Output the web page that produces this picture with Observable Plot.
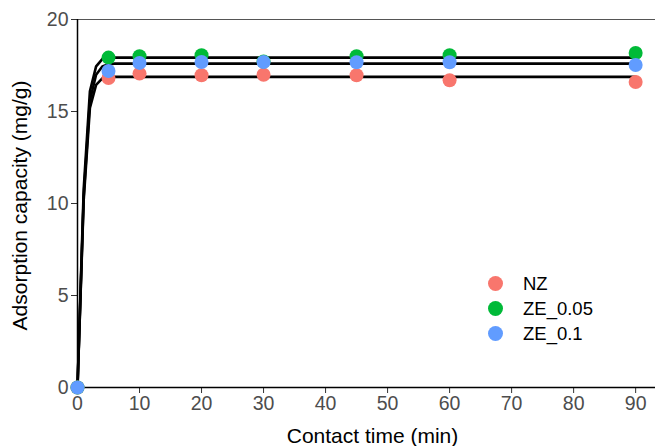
<!DOCTYPE html>
<html>
<head>
<meta charset="utf-8">
<script src="https://cdn.jsdelivr.net/npm/d3@7"></script>
<script src="https://cdn.jsdelivr.net/npm/@observablehq/plot@0.6"></script>
<style>
  html, body { margin: 0; padding: 0; background: #fff; }
  #wrap { position: relative; width: 655px; height: 446px; font-family: "Liberation Sans", Arial, sans-serif; }
  #legend { position: absolute; left: 488px; top: 271px; font-size: 18.5px; line-height: 25px; color: #000; }
  #legend .item { display: flex; align-items: center; height: 25px; }
  #legend .sw { width: 15px; height: 15px; border-radius: 50%; margin-right: 20px; flex: none; }
</style>
</head>
<body>
<div id="wrap"></div>
<script>
// ---- data ----
const seriesNames = ["NZ", "ZE_0.05", "ZE_0.1"];
const seriesColors = ["#F8766D", "#00BA38", "#619CFF"];
const times = [0, 5, 10, 20, 30, 45, 60, 90];
const nzValues   = [0, 16.82, 17.06, 16.97, 17.0, 16.97, 16.7, 16.6];
const ze005Values = [0, 17.93, 18.0, 18.06, 17.72, 18.0, 18.06, 18.18];
const ze01Values  = [0, 17.2, 17.64, 17.69, 17.69, 17.68, 17.68, 17.53];

// fitted curves
const fitTimes = [0, 1, 2, 3, 4, 5, 6, 90];
const nzFit    = [0, 10.2, 15.2, 16.45, 16.8, 16.87, 16.88, 16.88];
const ze005Fit = [0, 10.8, 16.1, 17.45, 17.85, 17.92, 17.93, 17.93];
const ze01Fit  = [0, 10.4, 15.6, 17.0, 17.45, 17.57, 17.6, 17.6];

const xTicks = [0, 10, 20, 30, 40, 50, 60, 70, 80, 90];
const yTicks = [0, 5, 10, 15, 20];
const xTitle = "Contact time (min)";
const yTitle = "Adsorption capacity (mg/g)";

// ---- build tables ----
const pointValues = [nzValues, ze005Values, ze01Values];
const fitValues = [nzFit, ze005Fit, ze01Fit];
const points = [];
seriesNames.forEach((s, k) => times.forEach((t, i) => points.push({series: s, t, q: pointValues[k][i]})));
const fits = [];
seriesNames.forEach((s, k) => fitTimes.forEach((t, i) => fits.push({series: s, t, q: fitValues[k][i]})));

const chart = Plot.plot({
  width: 655,
  height: 446,
  marginLeft: 77,
  marginRight: 0,
  marginTop: 19,
  marginBottom: 59,
  style: {fontFamily: "'Liberation Sans', Arial, sans-serif", background: "#fff"},
  x: {domain: [0, 93.2], label: null},
  y: {domain: [0, 20], label: null},
  color: {domain: seriesNames, range: seriesColors},
  marks: [
    Plot.ruleY([20], {stroke: "#555", strokeWidth: 1.2}),
    Plot.axisX({ticks: xTicks, tickSize: 6, tickPadding: 3, fontSize: 19.5, stroke: "#333", fill: "#4D4D4D", label: null}),
    Plot.axisY({ticks: yTicks, tickSize: 6, tickPadding: 3, fontSize: 19.5, stroke: "#333", fill: "#4D4D4D", label: null}),
    Plot.ruleY([0], {stroke: "#000", strokeWidth: 1.5}),
    Plot.ruleX([0], {stroke: "#000", strokeWidth: 1.5}),
    Plot.line(fits, {x: "t", y: "q", z: "series", stroke: "#000", strokeWidth: 2.6}),
    Plot.dot(points, {x: "t", y: "q", fill: "series", r: 7}),
    Plot.text([xTitle], {frameAnchor: "bottom", textAnchor: "middle", lineAnchor: "middle", dx: 6, dy: 49, fontSize: 21, fill: "#000"}),
    Plot.text([yTitle], {frameAnchor: "left", textAnchor: "middle", lineAnchor: "middle", rotate: -90, dx: -57, dy: 2, fontSize: 21, fill: "#000"})
  ]
});

const wrap = document.getElementById("wrap");
wrap.appendChild(chart);

const legend = document.createElement("div");
legend.id = "legend";
seriesNames.forEach((s, i) => {
  const item = document.createElement("div");
  item.className = "item";
  const sw = document.createElement("span");
  sw.className = "sw";
  sw.style.background = seriesColors[i];
  const lab = document.createElement("span");
  lab.textContent = s;
  item.appendChild(sw);
  item.appendChild(lab);
  legend.appendChild(item);
});
wrap.appendChild(legend);
</script>
</body>
</html>
